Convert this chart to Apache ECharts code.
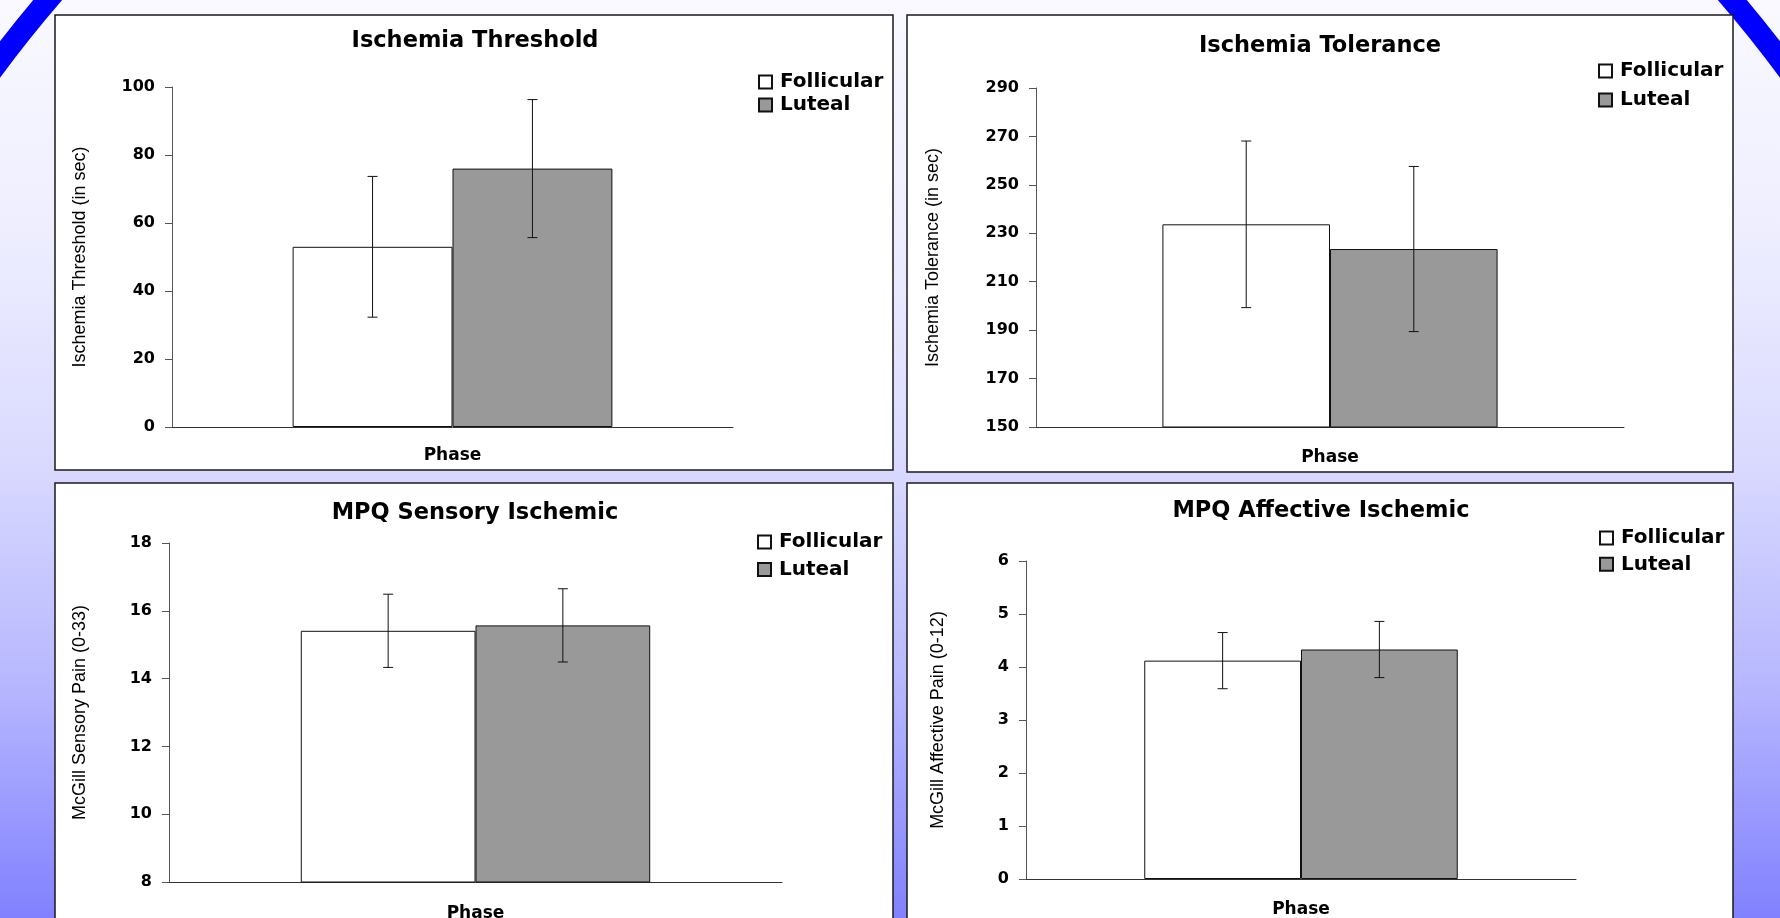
<!DOCTYPE html>
<html>
<head>
<meta charset="utf-8">
<title>Ischemic pain by menstrual phase</title>
<script src="https://cdn.jsdelivr.net/npm/echarts@6/dist/echarts.min.js"></script>
<style>
  html, body { margin: 0; padding: 0; background: #fff; }
  #chart { width: 1780px; height: 918px; }
</style>
</head>
<body>
<div id="chart"></div>
<script>
// --- data ---
const phaseNames = ["Follicular", "Luteal"];
const categories = ["Phase"];

const thresholdMeans = [53.0, 76.0];
const thresholdErrors = [20.7, 20.3];

const toleranceMeans = [233.7, 223.5];
const toleranceErrors = [34.4, 34.1];

const sensoryMeans = [15.41, 15.57];
const sensoryErrors = [1.08, 1.08];

const affectiveMeans = [4.12, 4.33];
const affectiveErrors = [0.53, 0.53];

// y axis ticks: [min, max, interval]
const thresholdTicks = [0, 100, 20];
const toleranceTicks = [150, 290, 20];
const sensoryTicks = [8, 18, 2];
const affectiveTicks = [0, 6, 1];

// --- styling ---
const BAR_FRAC = 0.285;
const phaseColors = ["#ffffff", "#999999"];
const boldFont = '"DejaVu Sans", sans-serif';
const plainFont = '"Liberation Sans", Arial, sans-serif';

// panel layout (pixels)
const panels = [
  {
    title: "Ischemia Threshold", titleX: 475, titleY: 41,
    yName: "Ischemia Threshold (in sec)", nameGap: 83, phaseGap: 20,
    box: [55, 15, 838, 455],
    grid: { left: 172, top: 87, width: 561, height: 340 },
    legend: { left: 758, top: 72, itemGap: 3 },
    means: thresholdMeans, errors: thresholdErrors, ticks: thresholdTicks,
  },
  {
    title: "Ischemia Tolerance", titleX: 1320, titleY: 46,
    yName: "Ischemia Tolerance (in sec)", nameGap: 94, phaseGap: 22,
    box: [907, 15, 826, 457],
    grid: { left: 1036, top: 88, width: 588, height: 339 },
    legend: { left: 1598, top: 61, itemGap: 9 },
    means: toleranceMeans, errors: toleranceErrors, ticks: toleranceTicks,
  },
  {
    title: "MPQ Sensory Ischemic", titleX: 475, titleY: 513,
    yName: "McGill Sensory Pain (0-33)", nameGap: 80, phaseGap: 23,
    box: [55, 483, 838, 520],
    grid: { left: 169, top: 543, width: 613, height: 339 },
    legend: { left: 757, top: 532, itemGap: 7.6 },
    means: sensoryMeans, errors: sensoryErrors, ticks: sensoryTicks,
  },
  {
    title: "MPQ Affective Ischemic", titleX: 1321, titleY: 511,
    yName: "McGill Affective Pain (0-12)", nameGap: 79, phaseGap: 22,
    box: [907, 483, 826, 520],
    grid: { left: 1026, top: 561, width: 550, height: 318 },
    legend: { left: 1599, top: 528, itemGap: 6.3 },
    means: affectiveMeans, errors: affectiveErrors, ticks: affectiveTicks,
  },
];

const myChart = echarts.init(document.getElementById("chart"), null, {
  renderer: "canvas",
});

// error bar drawn at the centre of each phase bar
function renderErrorBar(params, api) {
  const phase = api.value(1);
  const lo = api.value(2);
  const hi = api.value(3);
  const band = api.size([1, 0])[0];
  const bw = band * BAR_FRAC;
  const pLo = api.coord([api.value(0), lo]);
  const pHi = api.coord([api.value(0), hi]);
  const x = pLo[0] + (phase === 0 ? -bw / 2 : bw / 2);
  const cap = 5;
  const style = { stroke: "#111", lineWidth: 1 };
  return {
    type: "group",
    children: [
      { type: "line", shape: { x1: x, y1: pLo[1], x2: x, y2: pHi[1] }, style },
      { type: "line", shape: { x1: x - cap, y1: pHi[1], x2: x + cap, y2: pHi[1] }, style },
      { type: "line", shape: { x1: x - cap, y1: pLo[1], x2: x + cap, y2: pLo[1] }, style },
    ],
  };
}

const grids = [];
const xAxes = [];
const yAxes = [];
const legends = [];
const series = [];
const graphics = [
  {
    type: "rect",
    z: -10,
    shape: { x: 0, y: 0, width: 1780, height: 918 },
    style: {
      fill: new echarts.graphic.LinearGradient(0, 0, 0, 1, [
        { offset: 0, color: "#f9f9ff" },
        { offset: 0.25, color: "#eeeeff" },
        { offset: 0.5, color: "#dadaff" },
        { offset: 0.75, color: "#b6b6ff" },
        { offset: 1, color: "#8181ff" },
      ]),
    },
  },
  {
    // big slide-frame ellipse, only its top corners fall inside the page
    type: "ellipse",
    z: -9,
    shape: { cx: 890, cy: 900, rx: 1164, ry: 1304 },
    style: { fill: null, stroke: "#0000ff", lineWidth: 22 },
  },
];

panels.forEach((p, i) => {
  graphics.push({
    type: "rect",
    z: -8,
    shape: { x: p.box[0], y: p.box[1], width: p.box[2], height: p.box[3] },
    style: { fill: "#ffffff", stroke: "#1a1a1a", lineWidth: 1.5 },
  });
  graphics.push({
    type: "text",
    z: 5,
    x: p.titleX,
    y: p.titleY,
    style: {
      text: p.title,
      fill: "#000",
      font: `bold 22.5px ${boldFont}`,
      align: "center",
      verticalAlign: "middle",
    },
  });

  grids.push(Object.assign({ containLabel: false, outerBoundsMode: "none" }, p.grid));

  xAxes.push({
    type: "category",
    gridIndex: i,
    data: categories,
    name: "Phase",
    nameLocation: "middle",
    nameGap: p.phaseGap,
    nameTextStyle: { fontFamily: boldFont, fontWeight: "bold", fontSize: 17, color: "#000" },
    axisLine: { lineStyle: { color: "#333", width: 1 } },
    axisTick: { show: false },
    axisLabel: { show: false },
    splitLine: { show: false },
  });

  yAxes.push({
    type: "value",
    gridIndex: i,
    min: p.ticks[0],
    max: p.ticks[1],
    interval: p.ticks[2],
    name: p.yName,
    nameLocation: "middle",
    nameRotate: 90,
    nameGap: p.nameGap,
    nameTextStyle: { fontFamily: plainFont, fontSize: 18, color: "#000" },
    axisLine: { show: true, lineStyle: { color: "#555", width: 1 } },
    axisTick: { show: true, length: 7, lineStyle: { color: "#555" } },
    axisLabel: {
      margin: 17,
      fontFamily: boldFont,
      fontWeight: "bold",
      fontSize: 16,
      color: "#000",
    },
    splitLine: { show: false },
  });

  legends.push({
    orient: "vertical",
    left: p.legend.left,
    top: p.legend.top,
    padding: 0,
    itemGap: p.legend.itemGap,
    itemWidth: 13,
    itemHeight: 13,
    icon: "rect",
    data: phaseNames,
    textStyle: {
      fontFamily: boldFont,
      fontWeight: "bold",
      fontSize: 20,
      lineHeight: 20,
      color: "#000",
      padding: [0, 0, 0, 3],
    },
  });

  phaseNames.forEach((name, k) => {
    series.push({
      name: name,
      type: "bar",
      xAxisIndex: i,
      yAxisIndex: i,
      barWidth: BAR_FRAC * 100 + "%",
      barGap: "0%",
      itemStyle: { color: phaseColors[k], borderColor: "#111", borderWidth: 1 },
      data: [p.means[k]],
    });
  });

  series.push({
    type: "custom",
    xAxisIndex: i,
    yAxisIndex: i,
    z: 10,
    renderItem: renderErrorBar,
    encode: { x: 0, y: [2, 3] },
    data: p.means.map((m, k) => [0, k, m - p.errors[k], m + p.errors[k]]),
    silent: true,
  });
});

const option = {
  animation: false,
  backgroundColor: "transparent",
  graphic: graphics,
  grid: grids,
  xAxis: xAxes,
  yAxis: yAxes,
  legend: legends,
  tooltip: { show: false },
  series: series,
};

myChart.setOption(option);
window.addEventListener("resize", () => {
  if (myChart) myChart.resize();
});
</script>
</body>
</html>
